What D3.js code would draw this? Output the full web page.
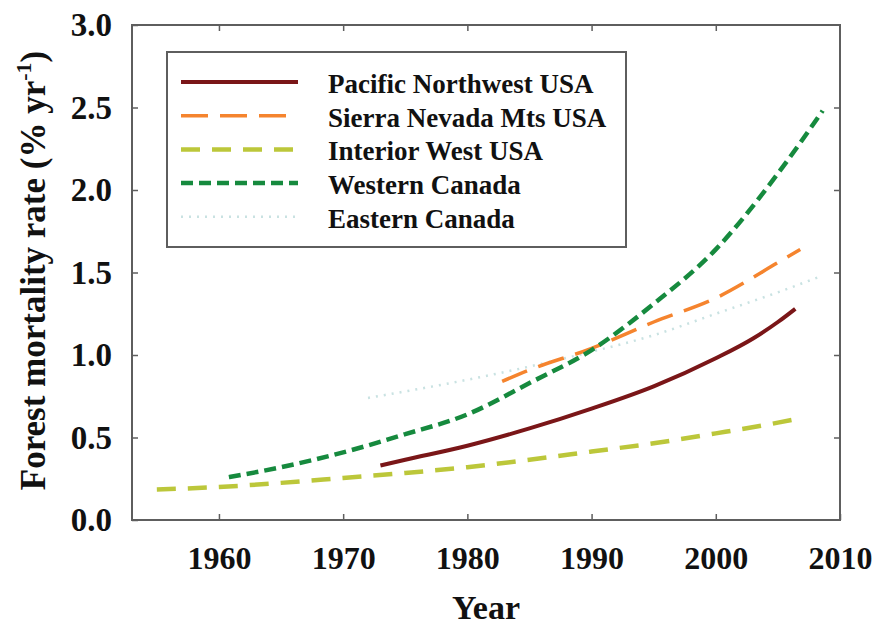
<!DOCTYPE html>
<html>
<head>
<meta charset="utf-8">
<script src="https://cdn.jsdelivr.net/npm/d3@7"></script>
<style>
  html, body { margin: 0; padding: 0; background: #fff; }
  svg { display: block; }
  text { font-family: "Liberation Serif", "Times New Roman", serif; font-weight: bold; fill: #111; }
</style>
</head>
<body>
<svg id="chart" width="881" height="630"></svg>
<script>
// Forest mortality rate trends by region
const xTicks = [1960, 1970, 1980, 1990, 2000, 2010];
const yTicks = [0.0, 0.5, 1.0, 1.5, 2.0, 2.5, 3.0];

const seriesNames = ["Pacific Northwest USA", "Sierra Nevada Mts USA", "Interior West USA", "Western Canada", "Eastern Canada"];

const pacificYears = [1973, 1975, 1980, 1985, 1990, 1995, 2000, 2003, 2005, 2006.4];
const pacificRates = [0.33, 0.365, 0.45, 0.555, 0.675, 0.81, 0.98, 1.1, 1.2, 1.28];

const sierraYears = [1982.8, 1985, 1990, 1995, 2000, 2005, 2006.8];
const sierraRates = [0.84, 0.91, 1.04, 1.2, 1.345, 1.56, 1.64];

const interiorYears = [1955, 1960, 1965, 1970, 1975, 1980, 1985, 1990, 1995, 2000, 2005, 2007];
const interiorRates = [0.185, 0.2, 0.225, 0.255, 0.285, 0.32, 0.365, 0.415, 0.465, 0.525, 0.59, 0.62];

const westernYears = [1960.8, 1965, 1970, 1975, 1980, 1985, 1990, 1995, 2000, 2005, 2008.6];
const westernRates = [0.26, 0.32, 0.41, 0.52, 0.64, 0.83, 1.03, 1.31, 1.64, 2.1, 2.48];

const easternYears = [1972, 1980, 1985, 1990, 1995, 2000, 2005, 2008.2];
const easternRates = [0.74, 0.85, 0.93, 1.02, 1.12, 1.25, 1.38, 1.47];

const styles = [
  { color: "#7a1618", width: 4,   dash: null },
  { color: "#f5842e", width: 3.5, dash: "27,12" },
  { color: "#bcc73a", width: 4.5, dash: "19,12" },
  { color: "#168a3e", width: 4.5, dash: "12,6" },
  { color: "#c9e2e2", width: 2.5, dash: "2,6" }
];

const series = [
  [pacificYears, pacificRates],
  [sierraYears, sierraRates],
  [interiorYears, interiorRates],
  [westernYears, westernRates],
  [easternYears, easternRates]
].map(([ys, vs], i) => ({
  name: seriesNames[i],
  style: styles[i],
  points: ys.map((y, j) => ({ year: y, rate: vs[j] }))
}));

const svg = d3.select("#chart");
const plot = { left: 132, right: 840, top: 25, bottom: 520 };

const x = d3.scaleLinear().domain([1953, 2010]).range([plot.left, plot.right]);
const y = d3.scaleLinear().domain([0, 3]).range([plot.bottom, plot.top]);

const frameColor = "#5e5e5e";

// lines
const line = d3.line()
  .x(d => x(d.year))
  .y(d => y(d.rate))
  .curve(d3.curveMonotoneX);

const lineLayer = svg.append("g");
// draw back-to-front so the solid line sits on top
[4, 2, 1, 3, 0].forEach(i => {
  const s = series[i];
  lineLayer.append("path")
    .datum(s.points)
    .attr("d", line)
    .attr("fill", "none")
    .attr("stroke", s.style.color)
    .attr("stroke-width", s.style.width)
    .attr("stroke-dasharray", s.style.dash)
    .attr("stroke-linecap", "butt")
    .attr("stroke-linejoin", "round");
});

// frame
svg.append("rect")
  .attr("x", plot.left).attr("y", plot.top)
  .attr("width", plot.right - plot.left)
  .attr("height", plot.bottom - plot.top)
  .attr("fill", "none")
  .attr("stroke", frameColor)
  .attr("stroke-width", 2);

const tickLen = 6;

// bottom axis: inward ticks and labels
const xAxisBottom = d3.axisBottom(x).tickValues(xTicks).tickSizeInner(-tickLen).tickSizeOuter(0)
  .tickPadding(tickLen + 20).tickFormat(d3.format("d"));
const gxb = svg.append("g").attr("transform", `translate(0,${plot.bottom})`).call(xAxisBottom);
gxb.select(".domain").remove();
gxb.selectAll(".tick line").attr("stroke", frameColor).attr("stroke-width", 1.5);
gxb.selectAll(".tick text").attr("font-size", 32).attr("fill", "#111")
  .attr("font-family", "Liberation Serif, serif").attr("font-weight", "bold");

// top axis: inward ticks only
const gxt = svg.append("g").attr("transform", `translate(0,${plot.top})`)
  .call(d3.axisTop(x).tickValues(xTicks.filter(t => t < 2010)).tickSizeInner(-tickLen).tickSizeOuter(0).tickFormat(""));
gxt.select(".domain").remove();
gxt.selectAll(".tick line").attr("stroke", frameColor).attr("stroke-width", 1.5);

// left axis
const yAxisLeft = d3.axisLeft(y).tickValues(yTicks).tickSizeInner(-tickLen).tickSizeOuter(0)
  .tickPadding(tickLen + 14).tickFormat(d3.format(".1f"));
const gyl = svg.append("g").attr("transform", `translate(${plot.left},0)`).call(yAxisLeft);
gyl.select(".domain").remove();
gyl.selectAll(".tick line").attr("stroke", frameColor).attr("stroke-width", 1.5);
gyl.selectAll(".tick text").attr("font-size", 33).attr("fill", "#111")
  .attr("font-family", "Liberation Serif, serif").attr("font-weight", "bold");

// right axis: inward ticks only
const gyr = svg.append("g").attr("transform", `translate(${plot.right},0)`)
  .call(d3.axisRight(y).tickValues(yTicks.filter(t => t > 0 && t < 3)).tickSizeInner(-tickLen).tickSizeOuter(0).tickFormat(""));
gyr.select(".domain").remove();
gyr.selectAll(".tick line").attr("stroke", frameColor).attr("stroke-width", 1.5);

// axis titles
svg.append("text")
  .attr("x", (plot.left + plot.right) / 2)
  .attr("y", 619)
  .attr("text-anchor", "middle")
  .attr("font-size", 34)
  .text("Year");

const yTitle = svg.append("text")
  .attr("transform", `translate(45,${(plot.top + plot.bottom) / 2 - 2}) rotate(-90)`)
  .attr("text-anchor", "middle")
  .attr("font-size", 35);
yTitle.append("tspan").text("Forest mortality rate (% yr");
yTitle.append("tspan").attr("font-size", 22).attr("dy", -14).text("-1");
yTitle.append("tspan").attr("dy", 14).text(")");

// legend
const legend = svg.append("g");
legend.append("rect")
  .attr("x", 167).attr("y", 52)
  .attr("width", 459).attr("height", 195)
  .attr("fill", "#fff")
  .attr("stroke", frameColor)
  .attr("stroke-width", 2);

series.forEach((s, i) => {
  const ly = 82 + i * 33.7;
  legend.append("line")
    .attr("x1", 181).attr("x2", 298)
    .attr("y1", ly).attr("y2", ly)
    .attr("stroke", s.style.color)
    .attr("stroke-width", s.style.width)
    .attr("stroke-dasharray", s.style.dash);
  legend.append("text")
    .attr("x", 328).attr("y", ly + 11)
    .attr("font-size", 27)
    .text(s.name);
});
</script>
</body>
</html>
